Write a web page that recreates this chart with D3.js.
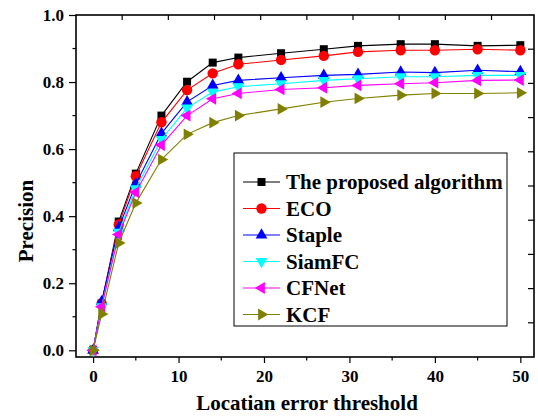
<!DOCTYPE html>
<html>
<head>
<meta charset="utf-8">
<script src="https://cdn.jsdelivr.net/npm/d3@7"></script>
<style>
  body { margin: 0; background: #fff; }
</style>
</head>
<body>
<div id="chart"></div>
<script>
// thresholds on the x axis
var thresholds = [0, 1, 3, 5, 8, 11, 14, 17, 22, 27, 31, 36, 40, 45, 50];

var proposed = [0, 0.14, 0.384, 0.527, 0.700, 0.801, 0.858, 0.873, 0.886, 0.898, 0.908, 0.913, 0.913, 0.908, 0.910];
var eco      = [0, 0.14, 0.375, 0.519, 0.680, 0.776, 0.826, 0.853, 0.866, 0.878, 0.890, 0.895, 0.895, 0.898, 0.895];
var staple   = [0, 0.145, 0.365, 0.496, 0.647, 0.741, 0.790, 0.805, 0.813, 0.820, 0.823, 0.830, 0.828, 0.835, 0.831];
var siamfc   = [0, 0.13, 0.352, 0.482, 0.629, 0.723, 0.770, 0.786, 0.795, 0.805, 0.810, 0.816, 0.816, 0.820, 0.820];
var cfnet    = [0, 0.13, 0.345, 0.471, 0.612, 0.700, 0.750, 0.766, 0.778, 0.783, 0.790, 0.795, 0.798, 0.805, 0.806];
var kcf      = [0, 0.108, 0.320, 0.439, 0.569, 0.644, 0.679, 0.700, 0.720, 0.740, 0.751, 0.761, 0.766, 0.766, 0.768];

var seriesNames = ['The proposed algorithm', 'ECO', 'Staple', 'SiamFC', 'CFNet', 'KCF'];
var seriesValues = [proposed, eco, staple, siamfc, cfnet, kcf];
var seriesColors = ['#000000', '#ff0000', '#0000ff', '#00ffff', '#ff00ff', '#808000'];

var xTicks = [0, 10, 20, 30, 40, 50];
var yTicks = [0.0, 0.2, 0.4, 0.6, 0.8, 1.0];

var FONT = '"Liberation Serif", "Times New Roman", serif';

var width = 538, height = 417;
var margin = {top: 15, right: 4, bottom: 60, left: 76};
var W = width - margin.left - margin.right;
var H = height - margin.top - margin.bottom;

var svg = d3.select('#chart').append('svg')
  .attr('width', width).attr('height', height);

var g = svg.append('g')
  .attr('transform', 'translate(' + [margin.left, margin.top] + ')');

var x = d3.scaleLinear().domain([-2, 51.6]).range([0, W]);
var y = d3.scaleLinear().domain([-0.02, 1.0]).range([H, 0]);
// the mirrored frame axes have their own spacing in the original
var xTop = d3.scaleLinear().domain([0, 49.6]).range([0, W]);
var yRight = d3.scaleLinear().domain([0, 1]).range([H, 0]);

// bottom axis
var xAxis = g.append('g').attr('transform', 'translate(0,' + H + ')');
xAxis.call(d3.axisBottom(x).tickValues(xTicks).tickSize(6).tickPadding(7).tickFormat(d3.format('d')));
xAxis.append('g').selectAll('line')
  .data(d3.range(5, 50, 10)).enter().append('line')
  .attr('x1', function(d){ return x(d); }).attr('x2', function(d){ return x(d); })
  .attr('y1', 0).attr('y2', 3.5).attr('stroke', '#000');

// left axis
var yAxis = g.append('g');
yAxis.call(d3.axisLeft(y).tickValues(yTicks).tickSize(7).tickPadding(5).tickFormat(d3.format('.1f')));
yAxis.append('g').selectAll('line')
  .data([0.1, 0.3, 0.5, 0.7, 0.9]).enter().append('line')
  .attr('x1', 0).attr('x2', -3.5)
  .attr('y1', function(d){ return y(d); }).attr('y2', function(d){ return y(d); })
  .attr('stroke', '#000');

[xAxis, yAxis].forEach(function(a){
  a.select('.domain').remove();
  a.attr('font-family', null).attr('font-size', null);
  a.selectAll('text')
    .style('font-family', FONT).style('font-weight', 'bold').style('font-size', '17px')
    .attr('fill', '#000');
  a.selectAll('line').attr('stroke-width', 1.2);
});

// top and right inward ticks
g.append('g').selectAll('line')
  .data(d3.range(5, 50, 5)).enter().append('line')
  .attr('x1', function(d){ return xTop(d); }).attr('x2', function(d){ return xTop(d); })
  .attr('y1', 0).attr('y2', 5).attr('stroke', '#000').attr('stroke-width', 1.2);
g.append('g').selectAll('line')
  .data(d3.range(0.1, 0.95, 0.1)).enter().append('line')
  .attr('x1', W).attr('x2', W - 6)
  .attr('y1', function(d){ return yRight(d); }).attr('y2', function(d){ return yRight(d); })
  .attr('stroke', '#000').attr('stroke-width', 1.2);

// frame
g.append('rect')
  .attr('x', 0).attr('y', 0).attr('width', W).attr('height', H)
  .attr('fill', 'none').attr('stroke', '#000').attr('stroke-width', 1.6);

var symbolTypes = [
  {type: d3.symbolSquare, size: 64, rot: 0},
  {type: d3.symbolCircle, size: 85, rot: 0},
  {type: d3.symbolTriangle, size: 60, rot: 0},
  {type: d3.symbolTriangle, size: 60, rot: 180},
  {type: d3.symbolTriangle, size: 60, rot: -90},
  {type: d3.symbolTriangle, size: 60, rot: 90}
];

var line = d3.line()
  .x(function(d, i){ return x(thresholds[i]); })
  .y(function(d){ return y(d); });

seriesValues.forEach(function(vals, s){
  var sg = g.append('g');
  sg.append('path')
    .attr('d', line(vals))
    .attr('fill', 'none')
    .attr('stroke', seriesColors[s])
    .attr('stroke-width', 1.1);
  var sym = d3.symbol().type(symbolTypes[s].type).size(symbolTypes[s].size);
  sg.selectAll('path.m')
    .data(vals).enter().append('path')
    .attr('class', 'm')
    .attr('d', sym)
    .attr('transform', function(d, i){
      return 'translate(' + [x(thresholds[i]), y(d)] + ') rotate(' + symbolTypes[s].rot + ')';
    })
    .attr('fill', seriesColors[s]);
});

// axis titles
svg.append('text')
  .attr('x', 307).attr('y', 410)
  .attr('text-anchor', 'middle')
  .style('font-family', FONT).style('font-weight', 'bold').style('font-size', '21px')
  .text('Locatian error threshold');

svg.append('text')
  .attr('transform', 'translate(33,221) rotate(-90)')
  .attr('text-anchor', 'middle')
  .style('font-family', FONT).style('font-weight', 'bold').style('font-size', '21px')
  .text('Precision');

// legend
var legend = svg.append('g').attr('transform', 'translate(234,153)');
legend.append('rect')
  .attr('width', 273).attr('height', 173)
  .attr('fill', '#fff').attr('stroke', '#000').attr('stroke-width', 1);

var rows = legend.selectAll('g.row')
  .data(seriesNames).enter().append('g')
  .attr('class', 'row')
  .attr('transform', function(d, i){ return 'translate(0,' + (29 + i * 26.5) + ')'; });

rows.append('line')
  .attr('x1', 9).attr('x2', 46)
  .attr('stroke', function(d, i){ return seriesColors[i]; })
  .attr('stroke-width', 1.1);

rows.append('path')
  .attr('d', function(d, i){ return d3.symbol().type(symbolTypes[i].type).size(symbolTypes[i].size)(); })
  .attr('transform', function(d, i){ return 'translate(27.5,0) rotate(' + symbolTypes[i].rot + ')'; })
  .attr('fill', function(d, i){ return seriesColors[i]; });

rows.append('text')
  .attr('x', 52).attr('y', 7)
  .style('font-family', FONT).style('font-weight', 'bold').style('font-size', '21px')
  .text(function(d){ return d; });
</script>
</body>
</html>
